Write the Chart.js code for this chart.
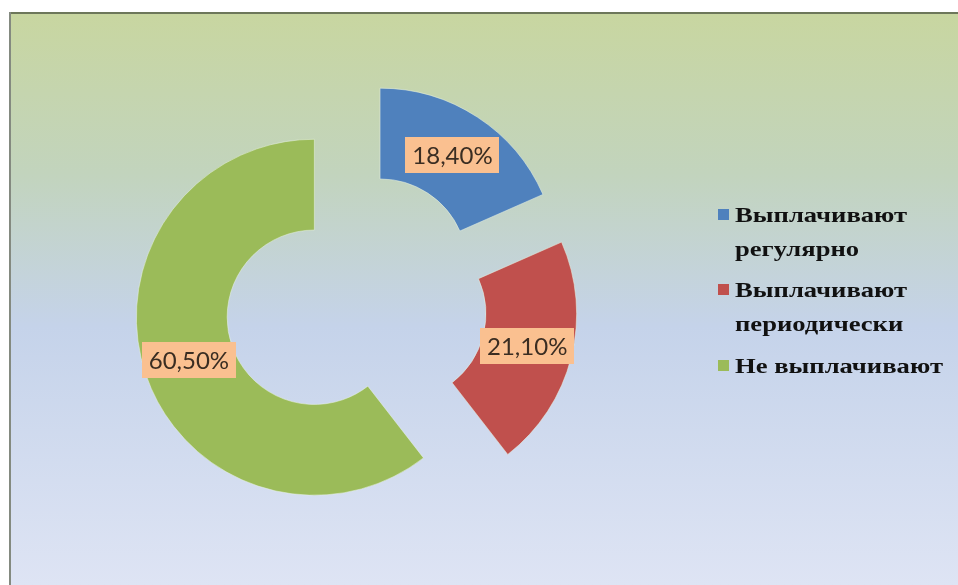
<!DOCTYPE html>
<html>
<head>
<meta charset="utf-8">
<script src="https://cdn.jsdelivr.net/npm/chart.js@4.4.1/dist/chart.umd.min.js"></script>
<style>
html,body{margin:0;padding:0;background:#fff;}
canvas{display:block;}
</style>
</head>
<body>
<canvas id="c" width="958" height="585"></canvas>
<script>
const categories = ['Выплачивают регулярно', 'Выплачивают периодически', 'Не выплачивают'];
const legendLines = [['Выплачивают', 'регулярно'], ['Выплачивают', 'периодически'], ['Не выплачивают']];
const values = [18.4, 21.1, 60.5];
const colors = ['#4F81BD', '#C0504D', '#9BBB59'];

const EXPLODE = 44;

const explodePlugin = {
  id: 'explode',
  afterDatasetUpdate(chart, args) {
    const meta = chart.getDatasetMeta(args.index);
    meta.data.forEach(arc => {
      const mid = (arc.startAngle + arc.endAngle) / 2;
      arc.x += Math.cos(mid) * EXPLODE;
      arc.y += Math.sin(mid) * EXPLODE;
    });
  }
};

const bgPlugin = {
  id: 'bg',
  beforeDraw(chart) {
    const ctx = chart.ctx, W = chart.width, H = chart.height;
    ctx.save();
    ctx.fillStyle = '#ffffff';
    ctx.fillRect(0, 0, W, H);
    const g = ctx.createLinearGradient(0, 13, 0, H);
    g.addColorStop(0, '#c8d6a0');
    g.addColorStop(0.28, '#c2d4bd');
    g.addColorStop(0.55, '#c5d3ea');
    g.addColorStop(1, '#dee4f4');
    ctx.fillStyle = g;
    ctx.fillRect(10, 13, W - 10, H - 13);
    ctx.fillStyle = '#6d775a';
    ctx.fillRect(10, 12, W - 10, 2);
    ctx.fillStyle = '#848a80';
    ctx.fillRect(9, 12, 2, H - 12);
    ctx.restore();
  }
};

const labelPlugin = {
  id: 'sliceLabels',
  afterDatasetsDraw(chart) {
    const ctx = chart.ctx;
    const meta = chart.getDatasetMeta(0);
    ctx.save();
    ctx.font = '24px Lato';
    ctx.textAlign = 'center';
    ctx.textBaseline = 'middle';
    meta.data.forEach((arc, i) => {
      const mid = (arc.startAngle + arc.endAngle) / 2;
      const r = (arc.innerRadius + arc.outerRadius) / 2;
      const x = arc.x + Math.cos(mid) * r;
      const y = arc.y + Math.sin(mid) * r;
      const txt = values[i].toFixed(2).replace('.', ',') + '%';
      const w = ctx.measureText(txt).width + 14;
      const h = 36;
      ctx.fillStyle = '#FAC090';
      ctx.fillRect(Math.round(x - w / 2), Math.round(y - h / 2), Math.round(w), h);
      ctx.fillStyle = '#3a2d22';
      ctx.fillText(txt, x, y + 1);
    });
    ctx.restore();
  }
};

const legendPlugin = {
  id: 'customLegend',
  afterDraw(chart) {
    const ctx = chart.ctx;
    const x0 = 718, tx = 735;
    const baselines = [[222, 256], [297, 331], [373]];
    ctx.save();
    ctx.font = 'bold 22px "Liberation Serif"';
    ctx.textBaseline = 'alphabetic';
    ctx.textAlign = 'left';
    legendLines.forEach((lines, i) => {
      ctx.fillStyle = colors[i];
      ctx.fillRect(x0, baselines[i][0] - 13, 11, 11);
      ctx.fillStyle = '#111111';
      lines.forEach((ln, j) => {
        ctx.save();
        ctx.translate(tx, baselines[i][j]);
        ctx.scale(1.21, 1);
        ctx.fillText(ln, 0, 0);
        ctx.restore();
      });
    });
    ctx.restore();
  }
};

new Chart(document.getElementById('c'), {
  type: 'doughnut',
  data: {
    labels: categories,
    datasets: [{
      data: values,
      backgroundColor: colors,
      borderColor: 'rgba(230,240,225,0.55)',
      borderWidth: 1
    }]
  },
  options: {
    responsive: false,
    animation: false,
    radius: 178,
    cutout: '49%',
    layout: { padding: { left: 0, right: 246, top: 21, bottom: 0 } },
    plugins: {
      legend: { display: false },
      tooltip: { enabled: false }
    }
  },
  plugins: [bgPlugin, explodePlugin, labelPlugin, legendPlugin]
});
</script>
</body>
</html>
